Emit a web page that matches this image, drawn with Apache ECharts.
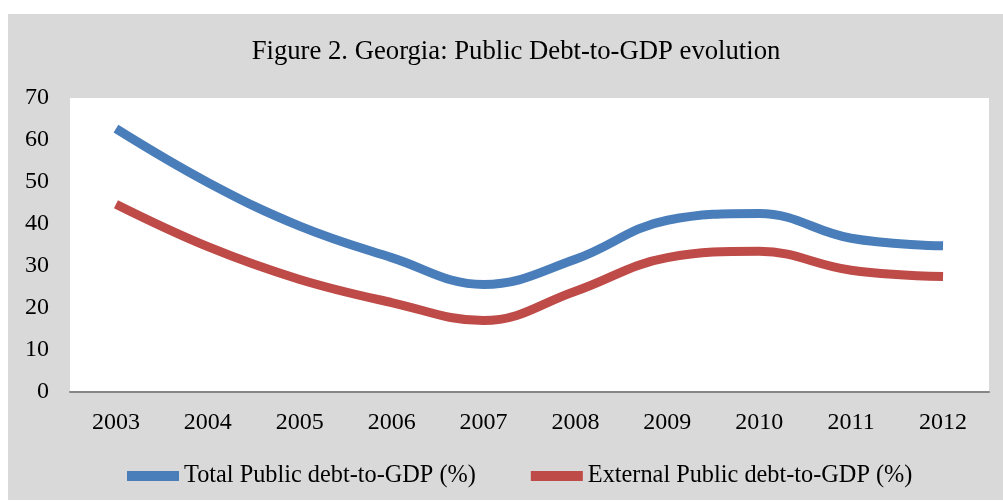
<!DOCTYPE html>
<html>
<head>
<meta charset="utf-8">
<script src="https://cdn.jsdelivr.net/npm/echarts@6/dist/echarts.min.js"></script>
<style>
html,body{margin:0;padding:0;background:#fff;}
#chart{width:1003px;height:502px;}
</style>
</head>
<body>
<div id="chart"></div>
<script>
const categories = ['2003','2004','2005','2006','2007','2008','2009','2010','2011','2012'];
const totalDebt = [62.7, 49.9, 39.5, 32.0, 25.6, 31.6, 40.9, 42.5, 36.6, 34.8];
const externalDebt = [44.7, 34.6, 26.8, 21.3, 17.0, 24.0, 32.0, 33.5, 29.0, 27.5];
const seriesNames = ['Total Public debt-to-GDP (%)', 'External Public debt-to-GDP (%)'];
const titleText = 'Figure 2. Georgia: Public Debt-to-GDP evolution';

const FONT = "'Liberation Serif', 'Times New Roman', serif";
const chart = echarts.init(document.getElementById('chart'), null, {renderer: 'canvas'});
chart.setOption({
  backgroundColor: '#ffffff',
  animation: false,
  graphic: [{
    type: 'rect', z: -10, silent: true,
    shape: {x: 8, y: 14, width: 995, height: 486},
    style: {fill: '#d9d9d9'}
  }],
  title: {
    text: titleText,
    left: 511, top: 33, textAlign: 'center',
    textStyle: {fontFamily: FONT, fontSize: 26.7, fontWeight: 'normal', color: '#000'}
  },
  legend: {
    left: 122, top: 459,
    itemWidth: 52, itemHeight: 10, itemGap: 55,
    icon: 'rect',
    textStyle: {fontFamily: FONT, fontSize: 24.3, color: '#000'},
    data: seriesNames
  },
  grid: {
    left: 70, right: 14, top: 98, bottom: 110,
    show: true, backgroundColor: '#ffffff', borderWidth: 0
  },
  xAxis: {
    type: 'category', data: categories, boundaryGap: true,
    axisLine: {lineStyle: {color: '#868686', width: 2}},
    axisTick: {show: false},
    axisLabel: {fontFamily: FONT, fontSize: 24, color: '#000', margin: 19}
  },
  yAxis: {
    type: 'value', min: 0, max: 70, interval: 10,
    axisLine: {show: false}, axisTick: {show: false},
    splitLine: {show: false},
    axisLabel: {fontFamily: FONT, fontSize: 24, color: '#000', margin: 21}
  },
  series: [
    {name: seriesNames[0], type: 'line', data: totalDebt, smooth: 0.4, symbol: 'none',
     lineStyle: {color: '#4a7ebb', width: 9, cap: 'butt'}, itemStyle: {color: '#4a7ebb'}},
    {name: seriesNames[1], type: 'line', data: externalDebt, smooth: 0.4, symbol: 'none',
     lineStyle: {color: '#be4b48', width: 9, cap: 'butt'}, itemStyle: {color: '#be4b48'}}
  ]
});
</script>
</body>
</html>
